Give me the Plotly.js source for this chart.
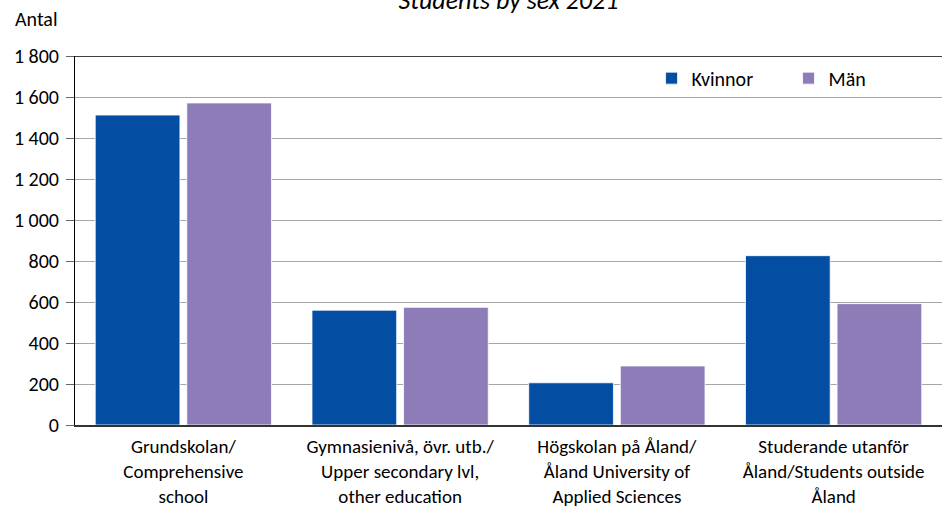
<!DOCTYPE html>
<html>
<head>
<meta charset="utf-8">
<script src="https://cdn.plot.ly/plotly-3.0.1.min.js"></script>
<style>html,body{margin:0;padding:0;background:#fff}</style>
</head>
<body>
<div id="chart" style="width:942px;height:511px"></div>
<script>
const categories = [
  "Grundskolan/<br>Comprehensive<br>school",
  "Gymnasienivå, övr. utb./<br>Upper secondary lvl,<br>other education",
  "Högskolan på Åland/<br>Åland University of<br>Applied Sciences",
  "Studerande utanför<br>Åland/Students outside<br>Åland"
];
const kvinnor = [1512, 560, 206, 826];
const man = [1571, 574, 288, 592];
const yTicks = [0, 200, 400, 600, 800, 1000, 1200, 1400, 1600, 1800];

const FONT = "Carlito, Lato, sans-serif";

const traces = [
  {type: "bar", name: "Kvinnor", x: categories, y: kvinnor,
   marker: {color: "#034EA2", line: {color: "#ffffff", width: 0.8}}},
  {type: "bar", name: "Män", x: categories, y: man,
   marker: {color: "#8E7CB8", line: {color: "#ffffff", width: 0.8}}}
];

const layout = {
  width: 942, height: 511,
  margin: {l: 75, r: 0, t: 56, b: 86, pad: 0},
  paper_bgcolor: "#ffffff", plot_bgcolor: "#ffffff",
  font: {family: FONT, size: 20, color: "#000000"},
  separators: ", ",
  barmode: "group", bargap: 0.155, bargroupgap: 0.075,
  title: {text: "<i>Students by sex 2021</i>", font: {family: FONT, size: 26, color: "#000"},
          xref: "paper", x: 0.5, xanchor: "center", yref: "container", y: 1.0, yanchor: "middle"},
  xaxis: {type: "category", showline: true, linecolor: "#333333", linewidth: 1.5,
          ticks: "", showgrid: false, automargin: false, tickfont: {size: 19},
          ticklabelstandoff: 4},
  yaxis: {range: [0, 1800], tickvals: yTicks, tickformat: ",d", ticks: "outside", ticklen: 8,
          tickcolor: "#666666", tickwidth: 1, showline: true, linecolor: "#000000", linewidth: 1,
          gridcolor: "#a6a6a6", gridwidth: 1, zeroline: false, automargin: false,
          tickfont: {size: 20}, ticklabelstandoff: 3},
  legend: {orientation: "h", x: 0.665, xanchor: "left", y: 0.94, yanchor: "middle",
           bgcolor: "rgba(0,0,0,0)", font: {size: 20}, entrywidth: 92, traceorder: "normal"},
  shapes: [{type: "line", xref: "paper", yref: "y", x0: 0, x1: 1, y0: 1800, y1: 1800,
            line: {color: "#404040", width: 2}}],
  annotations: [{text: "Antal", xref: "paper", yref: "paper", x: -0.071, y: 1.1,
                 xanchor: "left", yanchor: "middle", showarrow: false, font: {size: 20}}]
};

Plotly.newPlot("chart", traces, layout, {displayModeBar: false, staticPlot: true});
</script>
</body>
</html>
